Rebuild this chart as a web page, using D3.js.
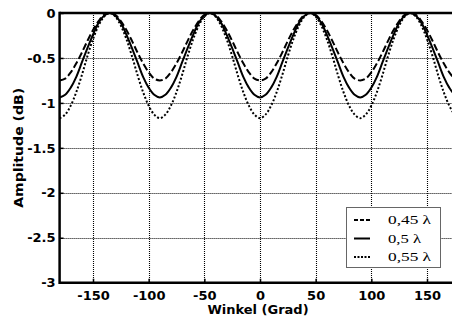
<!DOCTYPE html>
<html><head><meta charset="utf-8">
<script src="https://cdn.jsdelivr.net/npm/d3@7"></script>
<style>body{margin:0;background:#fff;overflow:hidden}svg{display:block}</style>
</head><body>
<script>
// Data
const angles = [-180,-175,-170,-165,-160,-155,-150,-145,-140,-135,-130,-125,-120,-115,-110,-105,-100,-95,-90,
 -85,-80,-75,-70,-65,-60,-55,-50,-45,-40,-35,-30,-25,-20,-15,-10,-5,0,
 5,10,15,20,25,30,35,40,45,50,55,60,65,70,75,80,85,90,
 95,100,105,110,115,120,125,130,135,140,145,150,155,160,165,170,175,180];
const amp045 = [-0.75,
 -0.73,-0.66,-0.56,-0.44,-0.31,-0.19,-0.09,-0.02,0,-0.02,-0.09,-0.19,-0.31,-0.44,-0.56,-0.66,-0.73,-0.75,
 -0.73,-0.66,-0.56,-0.44,-0.31,-0.19,-0.09,-0.02,0,-0.02,-0.09,-0.19,-0.31,-0.44,-0.56,-0.66,-0.73,-0.75,
 -0.73,-0.66,-0.56,-0.44,-0.31,-0.19,-0.09,-0.02,0,-0.02,-0.09,-0.19,-0.31,-0.44,-0.56,-0.66,-0.73,-0.75,
 -0.73,-0.66,-0.56,-0.44,-0.31,-0.19,-0.09,-0.02,0,-0.02,-0.09,-0.19,-0.31,-0.44,-0.56,-0.66,-0.73,-0.75];
const amp050 = [-0.94,
 -0.91,-0.83,-0.71,-0.55,-0.39,-0.24,-0.11,-0.03,0,-0.03,-0.11,-0.24,-0.39,-0.55,-0.71,-0.83,-0.91,-0.94,
 -0.91,-0.83,-0.71,-0.55,-0.39,-0.24,-0.11,-0.03,0,-0.03,-0.11,-0.24,-0.39,-0.55,-0.71,-0.83,-0.91,-0.94,
 -0.91,-0.83,-0.71,-0.55,-0.39,-0.24,-0.11,-0.03,0,-0.03,-0.11,-0.24,-0.39,-0.55,-0.71,-0.83,-0.91,-0.94,
 -0.91,-0.83,-0.71,-0.55,-0.39,-0.24,-0.11,-0.03,0,-0.03,-0.11,-0.24,-0.39,-0.55,-0.71,-0.83,-0.91,-0.94];
const amp055 = [-1.17,
 -1.13,-1.03,-0.88,-0.69,-0.48,-0.29,-0.14,-0.04,0,-0.04,-0.14,-0.29,-0.48,-0.69,-0.88,-1.03,-1.13,-1.17,
 -1.13,-1.03,-0.88,-0.69,-0.48,-0.29,-0.14,-0.04,0,-0.04,-0.14,-0.29,-0.48,-0.69,-0.88,-1.03,-1.13,-1.17,
 -1.13,-1.03,-0.88,-0.69,-0.48,-0.29,-0.14,-0.04,0,-0.04,-0.14,-0.29,-0.48,-0.69,-0.88,-1.03,-1.13,-1.17,
 -1.13,-1.03,-0.88,-0.69,-0.48,-0.29,-0.14,-0.04,0,-0.04,-0.14,-0.29,-0.48,-0.69,-0.88,-1.03,-1.13,-1.17];
const xTicks = [-150,-100,-50,0,50,100,150];
const xTickLabels = ["-150","-100","-50","0","50","100","150"];
const yTicks = [0,-0.5,-1,-1.5,-2,-2.5,-3];
const yTickLabels = ["0","-0.5","-1","-1.5","-2","-2.5","-3"];
const seriesNames = ["0,45 \u03bb","0,5 \u03bb","0,55 \u03bb"];
const series = [amp045, amp050, amp055];
const dashes = ["7,3", null, "2,2"];

const W = 452, H = 321;
const svg = d3.select("body").append("svg").attr("width", W).attr("height", H);
const x = d3.scaleLinear().domain([-180,180]).range([59.6,460.4]);
const y = d3.scaleLinear().domain([-3,0]).range([282.7,13]);
const fontAxis = "'DejaVu Sans', sans-serif";

// grid
const grid = svg.append("g").attr("stroke","#000").attr("stroke-width",1.1).attr("stroke-dasharray","1,1");
grid.selectAll(".gx").data(xTicks).join("line")
  .attr("x1",d=>Math.round(x(d))+0.5).attr("x2",d=>Math.round(x(d))+0.5).attr("y1",y(0)).attr("y2",y(-3));
grid.selectAll(".gy").data(yTicks.slice(1,-1)).join("line")
  .attr("x1",x(-180)).attr("x2",W).attr("y1",d=>Math.round(y(d))+0.5).attr("y2",d=>Math.round(y(d))+0.5);

// curves
const line = d3.line().x((d,i)=>x(angles[i])).y(d=>y(d)).curve(d3.curveCatmullRom);
svg.append("clipPath").attr("id","c").append("rect")
  .attr("x",x(-180)).attr("y",y(0)-3).attr("width",x(180)-x(-180)).attr("height",y(-3)-y(0)+3);
series.forEach((s,k)=>{
  svg.append("path").attr("d",line(s)).attr("fill","none").attr("stroke","#000")
    .attr("stroke-width",2).attr("stroke-dasharray",dashes[k]).attr("clip-path","url(#c)");
});

// axes
const xAxis = d3.axisBottom(x).tickValues(xTicks).tickSize(-4).tickPadding(8).tickFormat((d,i)=>xTickLabels[i]);
const gx = svg.append("g").attr("transform",`translate(0,${y(-3)})`).call(xAxis);
gx.select(".domain").remove();
gx.selectAll(".tick line").attr("stroke","#000").attr("stroke-width",1.5);
gx.selectAll("text").attr("font-family",fontAxis).attr("font-weight","bold").attr("font-size",13).attr("fill","#000");

const yAxis = d3.axisLeft(y).tickValues(yTicks).tickSize(-4).tickPadding(4).tickFormat((d,i)=>yTickLabels[i]);
const gy = svg.append("g").attr("transform",`translate(${x(-180)},0)`).call(yAxis);
gy.select(".domain").remove();
gy.selectAll(".tick line").attr("stroke","#000").attr("stroke-width",1.5);
gy.selectAll("text").attr("font-family",fontAxis).attr("font-weight","bold").attr("font-size",13).attr("fill","#000");

// frame lines
svg.append("line").attr("x1",x(-180)).attr("x2",W).attr("y1",y(-3)).attr("y2",y(-3)).attr("stroke","#000").attr("stroke-width",2.5);
svg.append("line").attr("x1",x(-180)).attr("x2",W).attr("y1",y(0)).attr("y2",y(0)).attr("stroke","#000").attr("stroke-width",2.5);
svg.append("line").attr("x1",x(-180)).attr("x2",x(-180)).attr("y1",y(0)-1.2).attr("y2",y(-3)+1.2).attr("stroke","#000").attr("stroke-width",2.5);

// axis titles
svg.append("text").attr("x",258).attr("y",314).attr("text-anchor","middle")
  .attr("font-family",fontAxis).attr("font-weight","bold").attr("font-size",13).text("Winkel (Grad)");
svg.append("text").attr("transform",`translate(22.5,${(y(0)+y(-3))/2}) rotate(-90)`).attr("text-anchor","middle")
  .attr("font-family",fontAxis).attr("font-weight","bold").attr("font-size",13).attr("textLength",120)
  .attr("lengthAdjust","spacingAndGlyphs").text("Amplitude (dB)");

// legend
const lg = svg.append("g");
lg.append("rect").attr("x",346.5).attr("y",207.5).attr("width",94).attr("height",60)
  .attr("fill","#fff").attr("stroke","#666").attr("stroke-width",1);
seriesNames.forEach((n,k)=>{
  const cy = 220 + k*18.5;
  lg.append("line").attr("x1",354).attr("x2",370).attr("y1",cy).attr("y2",cy)
    .attr("stroke","#000").attr("stroke-width",2).attr("stroke-dasharray",k===0?"4,2":(k===2?"2,1.5":null));
  lg.append("text").attr("x",388).attr("y",cy+4).attr("font-family","'Liberation Serif', serif")
    .attr("font-size",12.5).attr("textLength",[43,33,43][k]).attr("lengthAdjust","spacingAndGlyphs").text(n);
});
</script>
</body></html>
